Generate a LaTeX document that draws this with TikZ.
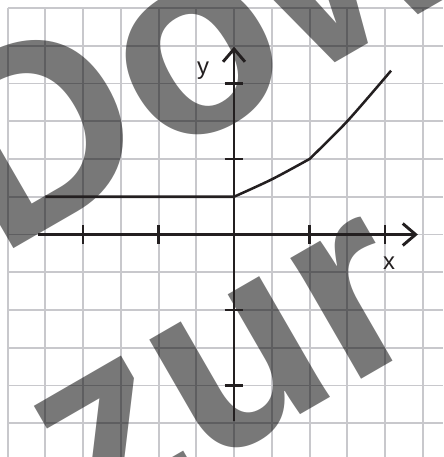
\documentclass[tikz,border=0pt]{standalone}
\usepackage{fontspec}
\setmainfont{Liberation Sans}
\usetikzlibrary{arrows.meta}
\definecolor{gridc}{RGB}{200,200,204}
\definecolor{ink}{RGB}{35,31,32}
\begin{document}
\begin{tikzpicture}[x=1cm,y=1cm,
  gridline/.style={draw=gridc,line width=1.5pt},
  axis/.style={draw=ink,line width=2.2pt},
  tickmark/.style={draw=ink,line width=2.2pt},
  graphline/.style={draw=ink,line width=1.9pt,line join=round},
  watermark/.style={anchor=base west,inner sep=0pt,rotate=30,text=black,text opacity=0.53,
    font=\fontsize{199.7}{200}\selectfont\bfseries},
  lbl/.style={text=ink,font=\fontsize{18}{20}\selectfont,inner sep=0pt}]
\useasboundingbox (-6.199,-5.894) rectangle (5.536,6.212);
\clip (-6.199,-5.894) rectangle (5.536,6.212);
% grid
\draw[gridline] (-6,-5.894) grid (5.536,6);
% watermark
\node[watermark] (wmA) at (-6.238,-0.609) {Dow};
\node[watermark] (wmB) at (-3.799,-7.974) {zur};
% axes
\coordinate (xs) at (-5.19,0);
\coordinate (xe) at (4.87,0);
\coordinate (ys) at (0,-4.93);
\coordinate (ye) at (0,4.975);
\draw[axis,-{Straight Barb[length=3.4mm,width=5.8mm]}] (xs) -- (xe);
\draw[axis,-{Straight Barb[length=3.4mm,width=5.8mm]}] (ys) -- (ye);
\foreach \t in {-4,-2,2,4} {
  \draw[tickmark] (\t,-0.24) -- (\t,0.24);
  \draw[tickmark] (-0.25,\t) -- (0.25,\t);
}
% graph
\draw[graphline] (-5,1) -- (0,1) -- plot[smooth] coordinates {(0,1) (1,1.46) (2,2)}
  -- plot[smooth] coordinates {(2,2) (3,3) (4.16,4.34)};
% labels
\node[lbl] (ylab) at (-0.82,4.35) {y};
\node[lbl] (xlab) at (4.11,-0.76) {x};
\end{tikzpicture}
\end{document}
